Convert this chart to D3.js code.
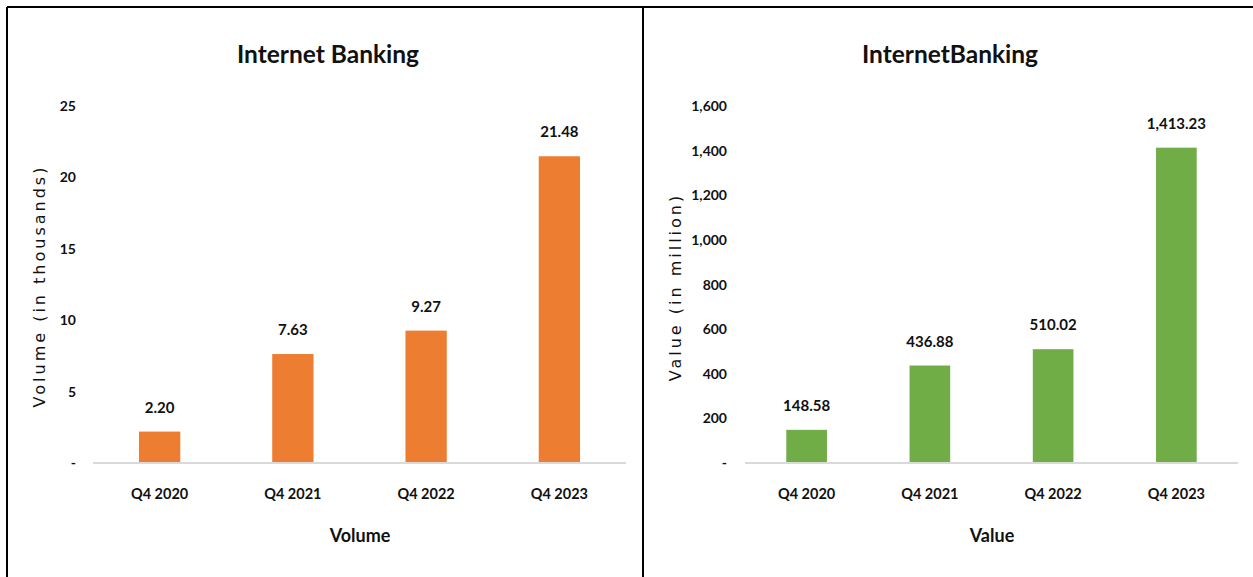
<!DOCTYPE html>
<html>
<head>
<meta charset="utf-8">
<script src="https://cdnjs.cloudflare.com/ajax/libs/d3/7.8.5/d3.min.js"></script>
<style>
  body { margin: 0; background: #fff; }
  svg text { font-family: Lato, "Open Sans", sans-serif; fill: #111; }
  svg text.axis-title-y { font-family: "DejaVu Sans", Verdana, sans-serif; }
</style>
</head>
<body>
<svg id="chart" width="1253" height="577"></svg>
<script>
let quarters = ["Q4 2020", "Q4 2021", "Q4 2022", "Q4 2023"];
let volumeValues = [2.20, 7.63, 9.27, 21.48];
let valueValues = [148.58, 436.88, 510.02, 1413.23];
let volumeTicks = [0, 5, 10, 15, 20, 25];
let valueTicks = [0, 200, 400, 600, 800, 1000, 1200, 1400, 1600];

let svg = d3.select("#chart");

// panel frame
svg.append("line").attr("x1", 7).attr("x2", 1253).attr("y1", 7).attr("y2", 7)
    .attr("stroke", "#000").attr("stroke-width", 2);
svg.append("line").attr("x1", 7).attr("x2", 7).attr("y1", 7).attr("y2", 577)
    .attr("stroke", "#000").attr("stroke-width", 2);
svg.append("line").attr("x1", 643).attr("x2", 643).attr("y1", 7).attr("y2", 577)
    .attr("stroke", "#000").attr("stroke-width", 2);

function drawPanel(cfg) {
    let g = svg.append("g");
    let x = d3.scaleBand().domain(quarters).range([cfg.x0, cfg.x1]).paddingInner(cfg.pad).paddingOuter(cfg.pad / 2);
    let y = d3.scaleLinear().domain([0, cfg.max]).range([463, 106]);

    g.append("text")
        .attr("x", cfg.titleX).attr("y", 63)
        .attr("text-anchor", "middle")
        .style("font-size", "24.5px").style("font-weight", "bold")
        .text(cfg.title);

    // tick labels, excel style with "-" for zero
    g.selectAll(".tick-label").data(cfg.ticks).enter().append("text")
        .attr("x", cfg.tickX).attr("y", d => y(d) + 5)
        .attr("text-anchor", "end")
        .style("font-size", "14px").style("font-weight", "bold")
        .text(d => d === 0 ? "-" : d3.format(",")(d));

    g.selectAll("rect").data(cfg.values).enter().append("rect")
        .attr("x", (d, i) => x(quarters[i]))
        .attr("y", d => y(d))
        .attr("width", x.bandwidth())
        .attr("height", d => y(0) - y(d))
        .attr("fill", cfg.color);

    g.append("line")
        .attr("x1", cfg.x0).attr("x2", cfg.x1)
        .attr("y1", y(0)).attr("y2", y(0))
        .attr("stroke", "#d9d9d9").attr("stroke-width", 2);

    g.selectAll(".val").data(cfg.values).enter().append("text")
        .attr("x", (d, i) => x(quarters[i]) + x.bandwidth() / 2)
        .attr("y", d => y(d) - 19)
        .attr("text-anchor", "middle")
        .style("font-size", "15px").style("font-weight", "bold")
        .text(d => d3.format(",.2f")(d));

    g.selectAll(".cat").data(quarters).enter().append("text")
        .attr("x", d => x(d) + x.bandwidth() / 2)
        .attr("y", 499)
        .attr("text-anchor", "middle")
        .style("font-size", "14.5px").style("font-weight", "bold")
        .text(d => d);

    g.append("text")
        .attr("x", cfg.xTitleX).attr("y", 542)
        .attr("text-anchor", "middle")
        .style("font-size", "18px").style("font-weight", "bold")
        .text(cfg.xTitle);

    g.append("text")
        .attr("class", "axis-title-y")
        .attr("transform", "translate(" + cfg.yTitleX + "," + cfg.yTitleY + ") rotate(-90)")
        .attr("text-anchor", "middle")
        .style("font-size", "16px")
        .style("letter-spacing", "3px")
        .text(cfg.yTitle);
}

drawPanel({
    x0: 93, x1: 626, pad: 0.69, max: 25, ticks: volumeTicks, values: volumeValues,
    color: "#ed7d31", title: "Internet Banking", titleX: 328, tickX: 76,
    xTitle: "Volume", xTitleX: 360, yTitle: "Volume  (in thousands)", yTitleX: 45, yTitleY: 286
});
drawPanel({
    x0: 745, x1: 1238, pad: 0.67, max: 1600, ticks: valueTicks, values: valueValues,
    color: "#70ad47", title: "InternetBanking", titleX: 950, tickX: 727,
    xTitle: "Value", xTitleX: 992, yTitle: "Value  (in million)", yTitleX: 681, yTitleY: 287
});
</script>
</body>
</html>
